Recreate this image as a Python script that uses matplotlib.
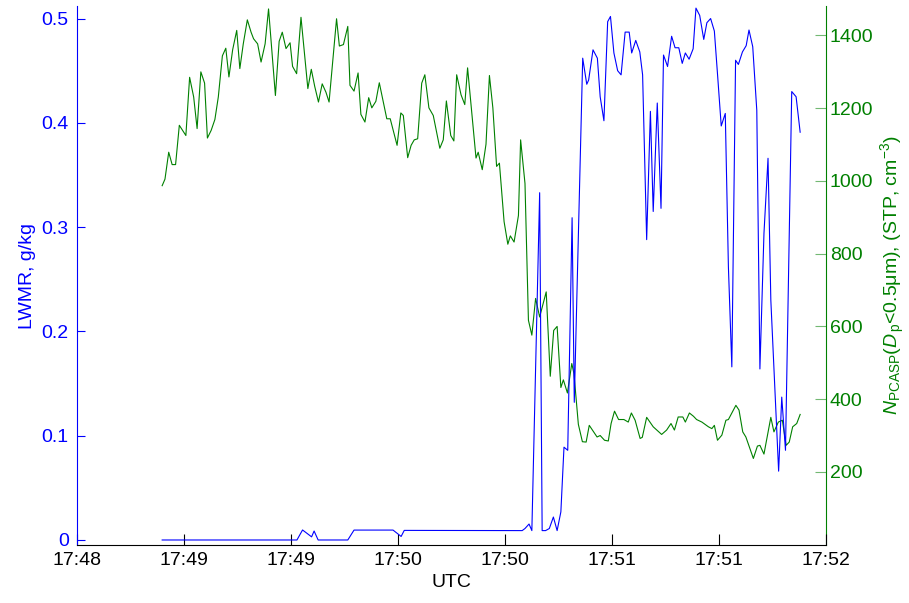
import matplotlib
matplotlib.use("Agg")
import matplotlib.pyplot as plt
import numpy as np

plt.rcParams["font.family"] = ["Liberation Sans", "DejaVu Sans"]
plt.rcParams["mathtext.fontset"] = "custom"
plt.rcParams["mathtext.rm"] = "Liberation Sans"
plt.rcParams["mathtext.it"] = "Liberation Sans:italic"
plt.rcParams["mathtext.bf"] = "Liberation Sans:bold"

# Time axis: seconds after 17:48:00 UTC, labels rounded to the minute
x_ticklabels = ["17:48", "17:49", "17:49", "17:50", "17:50", "17:51", "17:51", "17:52"]

# Liquid water mixing ratio, g/kg
lwmr_t = [27.3, 70.5, 72.3, 75.2, 76.0, 77.3, 86.8, 88.8, 101.3, 103.9, 104.9,
          142.7, 143.6, 144.9, 145.8, 148.3, 149.1, 150.2, 151.4, 152.7, 153.9,
          155.1, 156.1, 157.3, 158.7, 159.4, 162.1, 163.4, 164.0, 165.4, 166.8,
          167.7, 168.9, 170.1, 171.0, 172.1, 173.3, 174.4, 175.7, 177.0, 177.8,
          179.1, 180.4, 181.3, 182.6, 183.8, 184.7, 186.0, 187.2, 188.0, 189.3,
          190.6, 191.7, 192.9, 194.0, 195.0, 196.2, 197.5, 198.4, 199.6, 200.9,
          201.9, 203.1, 204.3, 205.4, 206.5, 207.8, 208.8, 209.9, 211.1, 212.0,
          213.3, 214.5, 215.4, 216.6, 217.9, 218.9, 220.2, 221.5, 222.4, 224.9,
          225.9, 227.1, 229.1, 230.5, 231.8]
lwmr = [0.0, 0.0, 0.0096, 0.003, 0.0086, 0.0, 0.0, 0.0095, 0.0095, 0.0034, 0.0092,
        0.009, 0.011, 0.0153, 0.009, 0.333, 0.009, 0.009, 0.011, 0.022, 0.009,
        0.027, 0.089, 0.086, 0.309, 0.132, 0.462, 0.437, 0.441, 0.470, 0.462,
        0.425, 0.402, 0.497, 0.502, 0.467, 0.450, 0.446, 0.487, 0.487, 0.467,
        0.479, 0.468, 0.446, 0.288, 0.411, 0.315, 0.419, 0.318, 0.465, 0.454,
        0.483, 0.472, 0.472, 0.457, 0.467, 0.461, 0.471, 0.510, 0.503, 0.480,
        0.496, 0.500, 0.488, 0.443, 0.397, 0.409, 0.262, 0.166, 0.460, 0.456,
        0.468, 0.474, 0.489, 0.473, 0.412, 0.164, 0.294, 0.366, 0.230, 0.066,
        0.137, 0.086, 0.430, 0.425, 0.391]

# PCASP aerosol number concentration (Dp < 0.5 um), STP cm^-3
npcasp_t = [27.3, 28.2, 29.4, 30.5, 31.6, 32.8, 34.9, 36.1, 37.4, 38.5, 39.7,
            40.9, 41.8, 43.0, 44.2, 45.3, 46.6, 47.7, 48.7, 49.9, 51.2, 52.2,
            53.3, 54.6, 55.8, 56.6, 57.9, 59.0, 60.3, 61.4, 63.6, 64.8, 65.8,
            67.0, 68.3, 69.1, 70.4, 71.8, 74.0, 75.1, 76.2, 77.4, 78.6, 79.8,
            80.8, 83.2, 84.1, 85.4, 86.8, 87.5, 88.8, 90.1, 91.0, 92.3, 93.5,
            94.5, 95.8, 96.9, 99.3, 100.4, 102.6, 103.8, 104.6, 106.0, 107.1,
            108.1, 109.2, 110.5, 111.5, 112.8, 114.2, 116.3, 117.4, 118.4, 119.8,
            120.8, 121.7, 123.1, 124.3, 125.2, 127.9, 128.6, 129.9, 131.1, 132.2,
            133.3, 134.5, 135.4, 136.9, 138.1, 138.9, 140.1, 141.5, 142.2, 143.6,
            144.7, 145.8, 147.0, 148.3, 150.4, 151.7, 152.8, 153.9, 155.1, 155.9,
            157.2, 158.6, 159.3, 160.7, 162.0, 163.2, 164.2, 166.7, 167.7, 169.1,
            170.3, 171.2, 172.3, 173.6, 175.3, 176.7, 177.7, 178.9, 180.5, 181.2,
            182.6, 184.7, 187.4, 189.0, 190.4, 191.5, 192.7, 194.2, 195.0, 196.3,
            197.6, 198.6, 200.3, 202.4, 203.5, 204.3, 205.3, 206.7, 208.0, 208.8,
            210.1, 211.2, 212.2, 213.4, 214.4, 215.5, 216.8, 218.1, 218.9, 220.2,
            222.4, 223.4, 224.8, 226.1, 227.3, 228.3, 229.4, 230.7, 231.8]
npcasp = [987, 1005, 1079, 1045, 1045, 1153, 1125, 1285, 1231, 1144, 1300,
          1269, 1118, 1139, 1169, 1231, 1344, 1365, 1286, 1361, 1414, 1309,
          1377, 1443, 1409, 1391, 1377, 1327, 1377, 1473, 1235, 1384, 1409,
          1364, 1380, 1315, 1295, 1450, 1254, 1307, 1260, 1217, 1267, 1244,
          1217, 1446, 1371, 1375, 1425, 1263, 1247, 1297, 1183, 1162, 1229,
          1201, 1219, 1270, 1171, 1171, 1098, 1187, 1180, 1064, 1098,
          1113, 1116, 1269, 1292, 1201, 1180, 1090, 1113, 1220, 1125,
          1110, 1292, 1237, 1210, 1311, 1063, 1079, 1031, 1101, 1290,
          1201, 1040, 1049, 888, 826, 849, 832, 905, 1113, 993,
          617, 576, 677, 626, 695, 463, 589, 600, 432, 453,
          417, 498, 470, 331, 283, 282, 328, 296, 300, 287,
          285, 333, 367, 344, 344, 337, 362, 342, 292, 295,
          350, 324, 303, 315, 333, 315, 351, 351, 337, 362,
          353, 344, 337, 324, 319, 328, 287, 301, 342, 344,
          365, 383, 370, 310, 296, 269, 237, 271, 273, 249,
          350, 310, 337, 342, 273, 282, 324, 333, 358]

lwmr_yticks = [0, 0.1, 0.2, 0.3, 0.4, 0.5]
lwmr_yticklabels = ["0", "0.1", "0.2", "0.3", "0.4", "0.5"]
npcasp_yticks = [200, 400, 600, 800, 1000, 1200, 1400]

BLUE = (0.0, 0.0, 1.0)
GREEN = (0.0, 0.5, 0.0)

fig = plt.figure(figsize=(9.09, 6.03), dpi=100)
ax1 = fig.add_axes([0.0847, 0.0962, 0.9084 - 0.0847, 0.990 - 0.0962])
ax2 = ax1.twinx()

# LWMR drawn in front of the aerosol trace
ax1.set_zorder(2)
ax1.patch.set_visible(False)
ax2.set_zorder(1)

ax2.plot(npcasp_t, npcasp, color=GREEN, lw=0.8)
ax1.plot(lwmr_t, lwmr, color=BLUE, lw=0.8)

ax1.set_xlim(0, 240)
ax1.set_ylim(-0.0048, 0.512)
ax2.set_ylim(-1, 1481)

ax1.set_xticks(np.linspace(0, 240, len(x_ticklabels)))
ax1.set_xticklabels(x_ticklabels)
ax1.set_yticks(lwmr_yticks)
ax1.set_yticklabels(lwmr_yticklabels)
ax2.set_yticks(npcasp_yticks)
ax2.set_yticklabels([str(v) for v in npcasp_yticks])

ax1.tick_params(axis="x", direction="in", length=8, width=0.8, color="black",
                labelsize=14, pad=5, labelcolor="black")
ax1.tick_params(axis="y", direction="in", length=6, width=0.8, color=BLUE,
                labelsize=14, pad=6, labelcolor=BLUE)
ax2.tick_params(axis="y", direction="in", length=8, width=0.8, color=(0.45, 0.72, 0.45),
                labelsize=14, pad=3, labelcolor=GREEN)

for side in ("top", "right"):
    ax1.spines[side].set_visible(False)
ax1.spines["left"].set_color(BLUE)
ax1.spines["bottom"].set_color("black")
for side in ("top", "left", "bottom"):
    ax2.spines[side].set_visible(False)
ax2.spines["right"].set_color(GREEN)

ax1.set_xlabel("UTC", fontsize=14, labelpad=4)
ax1.set_ylabel("LWMR, g/kg", fontsize=14, color=BLUE, labelpad=4)
ax2.set_ylabel(r"$N_{\mathrm{PCASP}}$($D_{\,\mathrm{p}}$<0.5μm), (STP, cm$^{-3}$)",
               fontsize=14, color=GREEN, labelpad=4)

fig.savefig("out.png", dpi=100)
